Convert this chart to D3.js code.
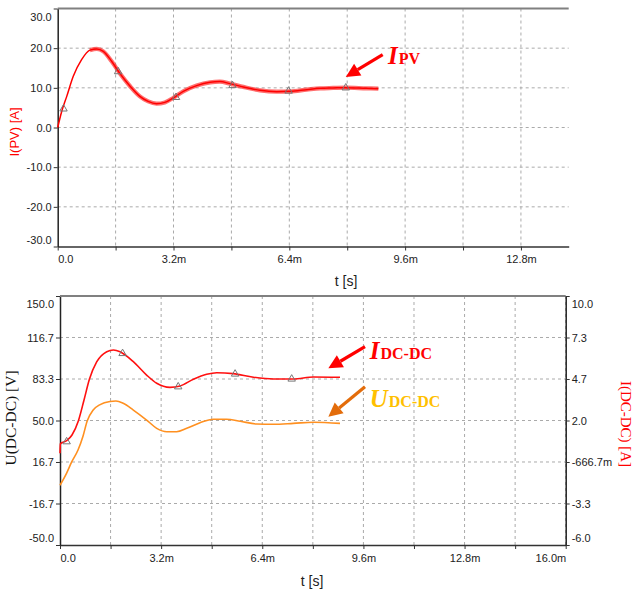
<!DOCTYPE html>
<html>
<head>
<meta charset="utf-8">
<script src="https://cdn.jsdelivr.net/npm/d3@7"></script>
<style>
  body { margin: 0; background: #fff; }
  svg { display: block; }
  .tick text { font-family: "Liberation Sans", Arial, sans-serif; font-size: 11px; fill: #222; }
</style>
</head>
<body>
<div id="chart"></div>
<script>
// time in ms
let tPV = [0, 0.11, 0.25, 0.43, 0.66, 0.89, 1.08, 1.26, 1.49, 1.72, 2.0, 2.27, 2.5, 2.73, 2.96, 3.19, 3.47, 3.84, 4.21, 4.48, 4.76, 5.13, 5.59, 6.05, 6.42, 6.88, 7.25, 7.61, 7.96, 8.54, 8.86];
let iPV = [0, 4.05, 7.85, 12.9, 17.1, 19.5, 19.8, 19.2, 16.7, 13.6, 10.4, 7.85, 6.58, 6.0, 6.33, 7.44, 9.11, 10.56, 11.39, 11.57, 11.06, 10.23, 9.37, 9.04, 9.11, 9.54, 9.87, 9.97, 10.05, 9.87, 9.8];
let tPVMarks = [0.16, 1.67, 3.27, 4.83, 6.38, 7.96];
let iPVMarks = [4.7, 14.1, 7.6, 10.6, 9.2, 10.0];

let tDC = [0, 0.01, 0.21, 0.38, 0.58, 0.76, 0.93, 1.16, 1.48, 1.69, 1.9, 2.32, 2.74, 3.06, 3.48, 3.8, 4.22, 4.64, 4.96, 5.48, 6.12, 6.75, 7.38, 8.02, 8.86];
let iDC = [-0.1, 0.5, 0.7, 1.07, 1.97, 3.32, 4.65, 5.76, 6.42, 6.53, 6.42, 5.78, 4.92, 4.39, 4.13, 4.22, 4.65, 4.97, 5.07, 5.01, 4.78, 4.67, 4.67, 4.8, 4.78];
let tDCMarks = [0.21, 1.98, 3.74, 5.54, 7.33];
let iDCMarks = [0.64, 6.31, 4.17, 4.99, 4.67];

let tU = [0, 0.21, 0.37, 0.57, 0.73, 0.86, 1.05, 1.27, 1.58, 1.77, 2.0, 2.32, 2.74, 3.06, 3.38, 3.69, 4.01, 4.43, 4.85, 5.27, 5.7, 6.22, 6.75, 7.38, 8.02, 8.86];
let uDC = [-2, 7.8, 16.7, 26.3, 37.6, 49.6, 58.4, 62.8, 65.3, 65.7, 63.8, 58.4, 50.4, 43.7, 41.0, 41.0, 43.7, 48.2, 51.0, 51.0, 49.4, 47.2, 47.0, 47.7, 48.6, 47.7];

let xTicksTop = [0, 1.6, 3.2, 4.8, 6.4, 8.0, 9.6, 11.2, 12.8];
let xLabelsTop = ["0.0", "", "3.2m", "", "6.4m", "", "9.6m", "", "12.8m"];
let yTicksTop = [-30, -20, -10, 0, 10, 20, 30];
let yLabelsTop = ["-30.0", "-20.0", "-10.0", "0.0", "10.0", "20.0", "30.0"];

let xTicksBot = [0, 1.6, 3.2, 4.8, 6.4, 8.0, 9.6, 11.2, 12.8, 14.4, 16.0];
let xLabelsBot = ["0.0", "", "3.2m", "", "6.4m", "", "9.6m", "", "12.8m", "", "16.0m"];
let yTicksLeft = [-50, -16.667, 16.667, 50, 83.333, 116.667, 150];
let yLabelsLeft = ["-50.0", "-16.7", "16.7", "50.0", "83.3", "116.7", "150.0"];
let yTicksRight = [-6, -3.333, -0.6667, 2, 4.667, 7.333, 10];
let yLabelsRight = ["-6.0", "-3.3", "-666.7m", "2.0", "4.7", "7.3", "10.0"];

let W = 636, H = 592;
let svg = d3.select("#chart").append("svg").attr("width", W).attr("height", H);

let serif = "'Liberation Serif', 'Times New Roman', serif";
let sans = "'Liberation Sans', Arial, sans-serif";

function panel(opt) {
  let g = svg.append("g");
  let x = d3.scaleLinear().domain(opt.xDomain).range([opt.left, opt.right]);
  let y = d3.scaleLinear().domain(opt.yDomain).range([opt.bottom, opt.top]);

  // grid
  g.selectAll(".vg").data(opt.xTicks.slice(1)).enter().append("line")
    .attr("x1", d => x(d)).attr("x2", d => x(d))
    .attr("y1", opt.top).attr("y2", opt.bottom)
    .attr("stroke", "#aaa").attr("stroke-dasharray", "3,3");
  g.selectAll(".hg").data(opt.yTicks.slice(1, -1)).enter().append("line")
    .attr("x1", opt.left).attr("x2", opt.right)
    .attr("y1", d => y(d)).attr("y2", d => y(d))
    .attr("stroke", "#aaa").attr("stroke-dasharray", "3,3");

  // x axis
  let xa = g.append("g").attr("transform", "translate(0," + opt.bottom + ")")
    .call(d3.axisBottom(x).tickValues(opt.xTicks).tickSize(4).tickSizeOuter(0)
      .tickFormat((d, i) => opt.xLabels[i]));
  xa.select(".domain").attr("stroke", "#333").attr("stroke-width", 1.5);
  xa.selectAll(".tick line").attr("stroke", "#333");
  xa.selectAll(".tick text").attr("dy", "0.9em");
  xa.selectAll(".tick text").filter((d, i) => i === 0).attr("text-anchor", "start");
  if (opt.lastEnd) {
    xa.selectAll(".tick text").filter((d, i) => i === opt.xTicks.length - 1)
      .attr("text-anchor", "end");
  }

  // left axis
  let ya = g.append("g").attr("transform", "translate(" + opt.left + ",0)")
    .call(d3.axisLeft(y).tickValues(opt.yTicks).tickSize(4).tickSizeOuter(0)
      .tickFormat((d, i) => opt.yLabels[i]));
  ya.select(".domain").attr("stroke", "#222").attr("stroke-width", 1.5);
  ya.selectAll(".tick line").attr("stroke", "#333");
  ya.selectAll(".tick text").attr("x", -6);
  edgeShift(ya, opt.yTicks.length);

  // top border
  g.append("line").attr("x1", opt.left).attr("x2", opt.right)
    .attr("y1", opt.top).attr("y2", opt.top)
    .attr("stroke", "#808080").attr("stroke-width", 2);

  return { g: g, x: x, y: y };
}

function edgeShift(axisG, n) {
  axisG.selectAll(".tick text").filter((d, i) => i === 0).attr("dy", "-0.3em");
  axisG.selectAll(".tick text").filter((d, i) => i === n - 1).attr("dy", "1.05em");
}

function drawLine(p, y, ts, vs, color, width, opacity) {
  let pts = ts.map((t, i) => [t, vs[i]]);
  p.g.append("path").datum(pts)
    .attr("fill", "none").attr("stroke", color).attr("stroke-width", width)
    .attr("stroke-opacity", opacity).attr("stroke-linejoin", "round")
    .attr("d", d3.line().x(d => p.x(d[0])).y(d => y(d[1])).curve(d3.curveMonotoneX));
}

function drawMarks(p, y, ts, vs) {
  let tri = d3.symbol().type(d3.symbolTriangle).size(24);
  p.g.selectAll(null).data(ts.map((t, i) => [t, vs[i]])).enter().append("path")
    .attr("d", tri)
    .attr("transform", d => "translate(" + p.x(d[0]) + "," + y(d[1]) + ")")
    .attr("fill", "none").attr("stroke", "#777").attr("stroke-width", 1);
}

function arrow(g, x1, y1, x2, y2, color) {
  let ang = Math.atan2(y2 - y1, x2 - x1);
  let L = 14, Wd = 7;
  let bx = x2 - L * Math.cos(ang), by = y2 - L * Math.sin(ang);
  g.append("line").attr("x1", x1).attr("y1", y1).attr("x2", bx).attr("y2", by)
    .attr("stroke", color).attr("stroke-width", 3.2);
  let px = -Math.sin(ang) * Wd, py = Math.cos(ang) * Wd;
  g.append("polygon")
    .attr("points", [[x2, y2], [bx + px, by + py], [bx - px, by - py]].map(q => q.join(",")).join(" "))
    .attr("fill", color);
}

function label(g, x, y, main, sub, color) {
  let t = g.append("text").attr("x", x).attr("y", y)
    .attr("font-family", serif).attr("font-weight", "bold").attr("fill", color);
  t.append("tspan").attr("font-style", "italic").attr("font-size", 25).text(main);
  t.append("tspan").attr("font-size", 16).attr("dx", 1).text(sub);
}

// ---------- top panel ----------
let topP = panel({
  left: 57.7, right: 568.7, top: 8.5, bottom: 246.5,
  xDomain: [0, 14.12], yDomain: [-30, 30],
  xTicks: xTicksTop, xLabels: xLabelsTop, yTicks: yTicksTop, yLabels: yLabelsTop,
  lastEnd: false
});
// ripple band around the settled part of the PV current
drawLine(topP, topP.y, tPV.filter(t => t >= 0.8), iPV.filter((v, i) => tPV[i] >= 0.8), "#ff3030", 4.2, 0.7);
drawLine(topP, topP.y, tPV, iPV, "#ff0000", 1.5, 1);
drawMarks(topP, topP.y, tPVMarks, iPVMarks);

svg.append("text").attr("transform", "translate(19,132) rotate(-90)")
  .attr("text-anchor", "middle").attr("font-family", sans).attr("font-size", 13)
  .attr("fill", "#ff0000").text("I(PV) [A]");
svg.append("text").attr("x", 346).attr("y", 286).attr("text-anchor", "middle")
  .attr("font-family", sans).attr("font-size", 14).attr("fill", "#222").text("t [s]");

arrow(topP.g, topP.x(8.98), topP.y(18.4), topP.x(7.96), topP.y(12.76), "#ff0000");
label(topP.g, topP.x(9.13), topP.y(16.0), "I", "PV", "#ff0000");

// ---------- bottom panel ----------
let botP = panel({
  left: 60, right: 565.7, top: 296, bottom: 545,
  xDomain: [0, 16], yDomain: [-50, 150],
  xTicks: xTicksBot, xLabels: xLabelsBot, yTicks: yTicksLeft, yLabels: yLabelsLeft,
  lastEnd: true
});
let yR = d3.scaleLinear().domain([-6, 10]).range([545, 296]);
let ra = botP.g.append("g").attr("transform", "translate(565.7,0)")
  .call(d3.axisRight(yR).tickValues(yTicksRight).tickSize(4).tickSizeOuter(0)
    .tickFormat((d, i) => yLabelsRight[i]));
ra.select(".domain").attr("stroke", "#222").attr("stroke-width", 1.5);
ra.selectAll(".tick line").attr("stroke", "#333");
ra.selectAll(".tick text").attr("x", 6);
edgeShift(ra, yTicksRight.length);

drawLine(botP, botP.y, tU, uDC, "#ff9020", 1.6, 1);
drawLine(botP, yR, tDC, iDC, "#ff1010", 1.6, 1);
drawMarks(botP, yR, tDCMarks, iDCMarks);

svg.append("text").attr("transform", "translate(16,418) rotate(-90)")
  .attr("text-anchor", "middle").attr("font-family", serif).attr("font-size", 15.5)
  .attr("fill", "#111").text("U(DC-DC) [V]");
svg.append("text").attr("transform", "translate(621,424) rotate(90)")
  .attr("text-anchor", "middle").attr("font-family", serif).attr("font-size", 15)
  .attr("fill", "#ff0000").text("I(DC-DC) [A]");
svg.append("text").attr("x", 312).attr("y", 586).attr("text-anchor", "middle")
  .attr("font-family", sans).attr("font-size", 14).attr("fill", "#222").text("t [s]");

arrow(botP.g, botP.x(9.65), yR(6.74), botP.x(8.49), yR(5.35), "#ff0000");
label(botP.g, botP.x(9.8), yR(5.97), "I", "DC-DC", "#ff0000");
arrow(botP.g, botP.x(9.65), yR(4.17), botP.x(8.49), yR(2.24), "#e36c0a");
label(botP.g, botP.x(9.8), yR(2.88), "U", "DC-DC", "#ffc000");
</script>
</body>
</html>
